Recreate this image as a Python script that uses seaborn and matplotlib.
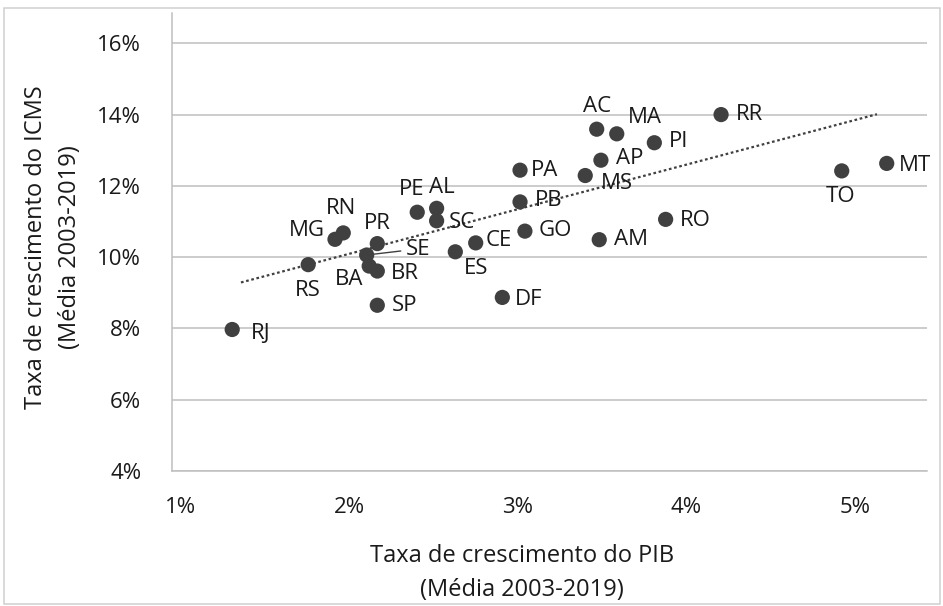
import numpy as np
import pandas as pd
import matplotlib
matplotlib.use("Agg")
import matplotlib.pyplot as plt
import matplotlib.patches as mpatches
from matplotlib.ticker import FuncFormatter, FixedLocator
import seaborn as sns

# ---- data (values in %) ----
states = ["RJ", "RS", "MG", "RN", "PR", "SE", "BA", "BR", "SP", "PE", "AL", "SC",
          "ES", "CE", "DF", "GO", "PB", "PA", "MS", "AC", "MA", "AP", "PI", "AM",
          "RO", "RR", "TO", "MT"]
pib = [1.305, 1.756, 1.915, 1.964, 2.166, 2.103, 2.118, 2.166, 2.166, 2.403, 2.518, 2.518,
       2.629, 2.750, 2.908, 3.042, 3.013, 3.013, 3.400, 3.468, 3.587, 3.493, 3.810, 3.483,
       3.877, 4.206, 4.922, 5.189]
icms = [7.97, 9.79, 10.50, 10.68, 10.38, 10.06, 9.75, 9.61, 8.65, 11.26, 11.37, 11.02,
        10.15, 10.40, 8.87, 10.73, 11.55, 12.44, 12.29, 13.59, 13.46, 12.72, 13.21, 10.49,
        11.06, 14.00, 12.42, 12.63]
# linear trend line endpoints
trend_x = [1.357, 5.131]
trend_y = [9.29, 14.01]
x_ticks = [1, 2, 3, 4, 5]
y_ticks = [4, 6, 8, 10, 12, 14, 16]
x_title = "Taxa de crescimento do PIB\n(Média 2003-2019)"
y_title = "Taxa de crescimento do ICMS\n(Média 2003-2019)"

# label offsets in pixels (dx right, dy down) from the marker centre
label_offsets = {
    "RJ": (28, 4), "RS": (0, 26), "MG": (-28, -9), "RN": (-2, -24), "PR": (0, -20),
    "SE": (51, -6), "BA": (-20, 13), "BR": (28, 2), "SP": (27, 0), "PE": (-6, -23),
    "AL": (5, -21), "SC": (25, 2), "ES": (21, 17), "CE": (23, -2), "DF": (26, 2),
    "GO": (30, -1), "PB": (29, -1), "PA": (25, 0), "MS": (32, 8), "AC": (0, -23),
    "MA": (28, -16), "AP": (29, -2), "PI": (24, -1), "AM": (32, 0), "RO": (30, 1),
    "RR": (28, 0), "TO": (-1, 26), "MT": (28, 2),
}

df = pd.DataFrame({"estado": states, "pib": pib, "icms": icms})
trend = pd.DataFrame({"x": trend_x, "y": trend_y})

sns.set_theme(style="white")
plt.rcParams["font.family"] = ["Open Sans", "DejaVu Sans"]

W, H, DPI = 943, 606, 100
fig = plt.figure(figsize=(W / DPI, H / DPI), dpi=DPI)
ax = fig.add_axes([171.7 / W, 1 - 471 / H, (927 - 171.7) / W, (471 - 13) / H])

DOT = "#404040"
GRID = "#bfbfbf"
TXT = "#1a1a1a"
LBL = 16

sns.lineplot(data=trend, x="x", y="y", ax=ax, color="#404040", lw=1.6,
             linestyle=(0, (1.2, 1.2)), zorder=2)
sns.scatterplot(data=df, x="pib", y="icms", ax=ax, s=120, color=DOT,
                edgecolor="none", zorder=3)

ax.set_xlim(0.946, 5.428)
ax.set_ylim(4, 16.85)
ax.xaxis.set_major_locator(FixedLocator(x_ticks))
ax.yaxis.set_major_locator(FixedLocator(y_ticks))
ax.xaxis.set_major_formatter(FuncFormatter(lambda v, p: f"{v:.0f}%"))
ax.yaxis.set_major_formatter(FuncFormatter(lambda v, p: f"{v:.0f}%"))
ax.grid(axis="y", color=GRID, lw=1.1)
ax.grid(axis="x", visible=False)
for s in ["top", "right"]:
    ax.spines[s].set_visible(False)
for s in ["left", "bottom"]:
    ax.spines[s].set_color(GRID)
    ax.spines[s].set_linewidth(1.1)
ax.tick_params(axis="both", length=0, labelsize=16, colors=TXT)
ax.tick_params(axis="y", pad=22)
ax.tick_params(axis="x", pad=19)
ax.set_xlabel("")
ax.set_ylabel("")

for st, xv, yv in zip(states, pib, icms):
    dx, dy = label_offsets[st]
    kw = dict(xy=(xv, yv), xytext=(dx * 0.72, -dy * 0.72),
              textcoords="offset points", ha="center", va="center",
              fontsize=LBL, color=TXT)
    if st == "SE":
        kw["arrowprops"] = dict(arrowstyle="-", color="#404040", lw=1,
                                shrinkA=1, shrinkB=5)
    ax.annotate(st, **kw)

fig.text(522 / W, 1 - 573 / H, x_title, ha="center", va="center",
         fontsize=17, color=TXT, linespacing=1.55)
fig.text(53 / W, 1 - 247 / H, y_title, ha="center", va="center",
         rotation=90, fontsize=17, color=TXT, linespacing=1.5)

fig.patches.append(mpatches.Rectangle((4 / W, 2 / H), (936) / W, (596) / H,
                                      transform=fig.transFigure, fill=False,
                                      edgecolor="#d0d0d0", lw=1.1))

fig.savefig("out.png", dpi=DPI)
